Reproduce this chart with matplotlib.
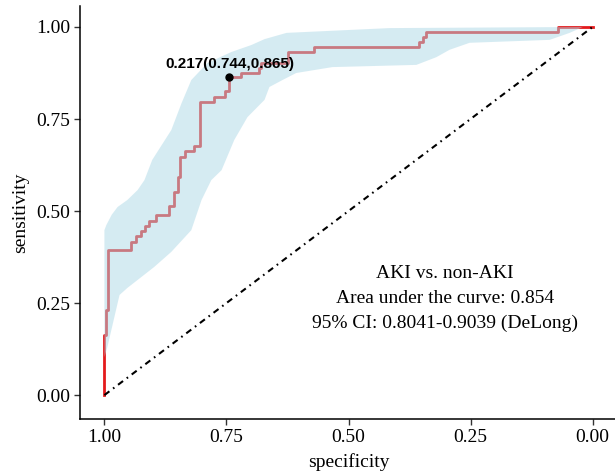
import numpy as np
import matplotlib
matplotlib.use("Agg")
import matplotlib.pyplot as plt

# ROC curve corners (specificity, sensitivity)
spec = [1.0, 1.0, 0.9965, 0.992, 0.945, 0.935, 0.926, 0.916, 0.908, 0.895,
        0.868, 0.857, 0.850, 0.846, 0.834, 0.816, 0.804, 0.775, 0.754, 0.745,
        0.720, 0.684, 0.679, 0.624, 0.570, 0.355, 0.348, 0.341, 0.071, 0.0]
sens = [0.0, 0.163, 0.230, 0.394, 0.417, 0.433, 0.446, 0.459, 0.474, 0.489,
        0.514, 0.552, 0.593, 0.647, 0.664, 0.677, 0.797, 0.810, 0.825, 0.865,
        0.876, 0.888, 0.901, 0.931, 0.946, 0.960, 0.973, 0.987, 1.0, 1.0]

# 95% CI band of sensitivity
ci_up_sp = [1.0, 0.996, 0.985, 0.973, 0.953, 0.932, 0.918, 0.902, 0.863, 0.842,
            0.822, 0.789, 0.740, 0.699, 0.672, 0.627, 0.416, 0.027, 0.0]
ci_up_se = [0.448, 0.462, 0.490, 0.511, 0.530, 0.557, 0.584, 0.639, 0.720, 0.793,
            0.856, 0.902, 0.932, 0.951, 0.967, 0.984, 0.997, 1.0, 1.0]
ci_lo_sp = [1.0, 0.994, 0.969, 0.953, 0.898, 0.863, 0.822, 0.801, 0.781, 0.760,
            0.734, 0.707, 0.672, 0.662, 0.635, 0.607, 0.533, 0.361, 0.320, 0.293,
            0.252, 0.088, 0.047, 0.020, 0.0]
ci_lo_se = [0.103, 0.130, 0.272, 0.291, 0.348, 0.389, 0.448, 0.530, 0.584, 0.611,
            0.693, 0.755, 0.802, 0.837, 0.856, 0.875, 0.891, 0.897, 0.918, 0.938,
            0.957, 0.965, 0.984, 1.0, 1.0]

best_thr = 0.217
best_sp = 0.744
best_se = 0.865

serif = "Liberation Serif"

fig = plt.figure(figsize=(6.15, 4.75), dpi=100)
ax = fig.add_axes([80 / 615, 56 / 475, 537 / 615, 413 / 475])

ax.step(spec, sens, where="post", color="#e41a1c", lw=2.0, zorder=2)

band_x = np.concatenate([ci_up_sp, ci_lo_sp[::-1]])
band_y = np.concatenate([ci_up_se, ci_lo_se[::-1]])
ax.fill(band_x, band_y, color="lightblue", alpha=0.5, lw=0, zorder=3)

ax.plot([1, 0], [0, 1], color="black", lw=1.5,
        linestyle=(0, (3, 2.2, 0.8, 2.2)), zorder=4)

ax.plot(best_sp, best_se, "o", color="black", ms=5, zorder=5)
ax.text(best_sp, best_se + 0.035, "%.3f(%.3f,%.3f)" % (best_thr, best_sp, best_se),
        ha="center", va="center", fontsize=11, fontweight="bold",
        family="Liberation Sans", zorder=6)

ax.text(0.303, 0.262,
        "AKI vs. non-AKI\nArea under the curve: 0.854\n95% CI: 0.8041-0.9039 (DeLong)",
        ha="center", va="center", multialignment="center", linespacing=1.62,
        fontsize=14, family=serif)

ax.set_xlim(1.05, -0.05)
ax.set_ylim(-0.065, 1.057)
ticks = [1.0, 0.75, 0.5, 0.25, 0.0]
ax.set_xticks(ticks)
ax.set_xticklabels(["%.2f" % t for t in ticks])
ax.set_yticks(ticks)
ax.set_yticklabels(["%.2f" % t for t in ticks])
for lab in ax.get_xticklabels() + ax.get_yticklabels():
    lab.set_family(serif)
    lab.set_fontsize(14)
ax.tick_params(length=4, width=1, color="#333333", pad=3)

ax.set_xlabel("specificity", family=serif, fontsize=14, labelpad=5)
ax.set_ylabel("sensitivity", family=serif, fontsize=14, labelpad=5)

ax.spines["top"].set_visible(False)
ax.spines["right"].set_visible(False)
ax.spines["left"].set_linewidth(1.1)
ax.spines["bottom"].set_linewidth(1.1)

fig.savefig("out.png", dpi=100)
